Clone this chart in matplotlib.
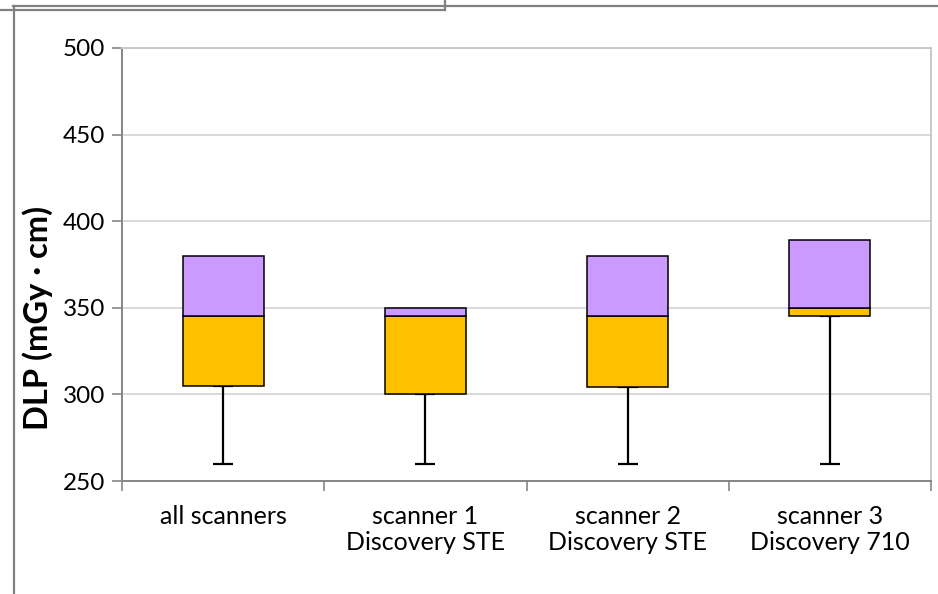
import matplotlib
matplotlib.use("Agg")
import matplotlib.pyplot as plt
from matplotlib.lines import Line2D

plt.rcParams["font.family"] = ["Lato", "DejaVu Sans"]

# DLP box plot per scanner (Excel-style stacked boxes, lower whisker only)
categories = ["all scanners", "scanner 1\nDiscovery STE", "scanner 2\nDiscovery STE", "scanner 3\nDiscovery 710"]
dlp_min = [260, 260, 260, 260]
dlp_q1 = [305, 300, 304, 345]
dlp_median = [345, 345, 345, 350]
dlp_q3 = [380, 350, 380, 389]

LOWER_COLOR = "#FFC000"
UPPER_COLOR = "#CC99FF"
GRID = "#D9D9D9"
SPINE = "#868686"

W, H = 938, 594
fig = plt.figure(figsize=(W / 100, H / 100), dpi=100)
ax = fig.add_axes([122 / W, 1 - 481 / H, (931 - 122) / W, (481 - 48) / H])

x = list(range(len(categories)))
lower_h = [m - q for m, q in zip(dlp_median, dlp_q1)]
upper_h = [q - m for q, m in zip(dlp_q3, dlp_median)]

ax.bar(x, lower_h, bottom=dlp_q1, width=0.4, color=LOWER_COLOR,
       edgecolor="black", linewidth=1.1, zorder=3)
ax.bar(x, upper_h, bottom=dlp_median, width=0.4, color=UPPER_COLOR,
       edgecolor="black", linewidth=1.1, zorder=3)

whisker = [q - lo for q, lo in zip(dlp_q1, dlp_min)]
ax.errorbar(x, dlp_q1, yerr=[whisker, [0] * len(x)], fmt="none",
            ecolor="black", elinewidth=1.6, capsize=7, capthick=1.6, zorder=2)

ax.set_ylim(250, 500)
ax.set_xlim(-0.5, len(categories) - 0.5)
ax.set_yticks(range(250, 501, 50))
ax.yaxis.grid(True, color=GRID, linewidth=1.4, zorder=0)
ax.set_axisbelow(True)

# category boundaries get the tick marks, labels sit at the centres
ax.set_xticks([i - 0.5 for i in range(len(categories) + 1)])
ax.set_xticklabels([])
ax.set_xticks(x, minor=True)
ax.set_xticklabels(categories, minor=True, fontsize=18, linespacing=1.18)
ax.tick_params(axis="x", which="minor", length=0, pad=17)
ax.tick_params(axis="x", which="major", length=7, width=1.2, color=SPINE)
ax.tick_params(axis="y", length=7, width=1.2, color=SPINE, labelsize=17.5, pad=5)

for side in ("left", "bottom"):
    ax.spines[side].set_color(SPINE)
    ax.spines[side].set_linewidth(1.4)
for side in ("right", "top"):
    ax.spines[side].set_color("#C8C8C8")
    ax.spines[side].set_linewidth(1.4)

ax.set_ylabel("DLP (mGy · cm)", fontsize=23.5, fontweight="bold", va="center")
ax.yaxis.set_label_coords(-0.104, 0.376)

# outer chart frame
frame = dict(color="#808080", linewidth=1.6, transform=fig.transFigure)
def px(xp, yp):
    return xp / W, 1 - yp / H
for (x0, y0), (x1, y1) in [((13, 5.5), (W, 5.5)), ((0, 10), (445, 10)),
                           ((445, 0), (445, 10)), ((13.5, 5.5), (13.5, H))]:
    a, b = px(x0, y0)
    c, d = px(x1, y1)
    fig.add_artist(Line2D([a, c], [b, d], **frame))

fig.savefig("out.png", dpi=100, facecolor="white")
